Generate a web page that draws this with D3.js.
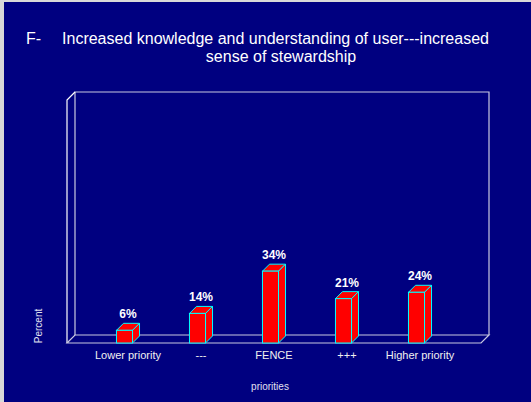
<!DOCTYPE html>
<html>
<head>
<meta charset="utf-8">
<script src="https://cdn.jsdelivr.net/npm/d3@7"></script>
<style>
  html, body { margin: 0; padding: 0; background: #d8d8d8; }
  svg { display: block; }
</style>
</head>
<body>
<div class="visHolder"></div>
<script>
const categories = ["Lower priority", "---", "FENCE", "+++", "Higher priority"];
const values = [6, 14, 34, 21, 24];
const valueLabels = ["6%", "14%", "34%", "21%", "24%"];

const fullWidth = 531;
const fullHeight = 402;
const depth = 8;          // 3d offset of the chart box
const barDepth = 7;       // 3d offset of each bar
const font = "'Liberation Sans', Arial, sans-serif";

const svg = d3.select(".visHolder")
   .append("svg")
   .attr("width", fullWidth)
   .attr("height", fullHeight);

svg.append("rect")
   .attr("x", 4).attr("y", 2)
   .attr("width", fullWidth - 4).attr("height", fullHeight - 2)
   .attr("fill", "#000080");

// scales
const xScale = d3.scaleBand()
   .domain(categories)
   .range([88, 453])
   .paddingInner(0.78)
   .paddingOuter(0.39);
const yScale = d3.scaleLinear()
   .domain([0, 115])
   .range([343, 100]);

const boxLeft = 67, boxRight = 481;
const boxBase = yScale(0), boxTop = yScale(115);

// chart box (back wall, side wall, floor)
const wall = svg.append("g").attr("fill", "none");
wall.append("path")
   .attr("d", `M${boxLeft + depth},${boxBase - depth} V${boxTop - depth} H${boxRight + depth} V${boxBase - depth}`)
   .attr("stroke", "#c8c8e0").attr("stroke-width", 1.2);
wall.append("path")
   .attr("d", `M${boxLeft},${boxBase} V${boxTop} L${boxLeft + depth},${boxTop - depth}`)
   .attr("stroke", "#ffffff").attr("stroke-width", 1.2);
wall.append("path")
   .attr("d", `M${boxLeft + depth},${boxBase - depth} H${boxRight + depth} L${boxRight},${boxBase} H${boxLeft} Z`)
   .attr("stroke", "#c8c8e0").attr("stroke-width", 1.2);

// bars
const bars = svg.selectAll(".bar")
   .data(values)
   .enter()
   .append("g")
   .attr("class", "bar")
   .attr("stroke", "#00ffff")
   .attr("stroke-width", 1)
   .attr("fill", "#ff0000");

bars.append("path")
   .attr("d", (d, i) => {
      const x = xScale(categories[i]), w = xScale.bandwidth(), y = yScale(d);
      return `M${x},${y} L${x + barDepth},${y - barDepth} H${x + w + barDepth} L${x + w},${y} Z`;
   });
bars.append("path")
   .attr("d", (d, i) => {
      const x = xScale(categories[i]) + xScale.bandwidth(), y = yScale(d);
      return `M${x},${y} L${x + barDepth},${y - barDepth} V${boxBase - barDepth} L${x},${boxBase} Z`;
   });
bars.append("rect")
   .attr("x", (d, i) => xScale(categories[i]))
   .attr("y", d => yScale(d))
   .attr("width", xScale.bandwidth())
   .attr("height", d => boxBase - yScale(d));

// value labels
svg.selectAll(".val")
   .data(values)
   .enter()
   .append("text")
   .attr("class", "val")
   .attr("x", (d, i) => xScale(categories[i]) + xScale.bandwidth() / 2 + barDepth / 2)
   .attr("y", d => yScale(d) - barDepth - 5)
   .attr("text-anchor", "middle")
   .attr("font-family", font)
   .attr("font-size", 12)
   .attr("font-weight", "bold")
   .attr("fill", "#ffffff")
   .text((d, i) => valueLabels[i]);

// x axis labels
const xAxis = d3.axisBottom(xScale).tickSize(0).tickPadding(0);
const gx = svg.append("g")
   .attr("id", "x-axis")
   .attr("transform", `translate(${barDepth / 2},${boxBase + 16})`)
   .call(xAxis);
gx.select(".domain").remove();
gx.selectAll("text")
   .attr("dy", 0)
   .attr("font-family", font)
   .attr("font-size", 11)
   .attr("fill", "#f0f0f0");

// titles
svg.append("text")
   .attr("x", 26).attr("y", 44)
   .attr("font-family", font).attr("font-size", 16)
   .attr("fill", "#ffffff")
   .text("F-");
svg.append("text")
   .attr("x", 275.5).attr("y", 44)
   .attr("text-anchor", "middle")
   .attr("font-family", font).attr("font-size", 16)
   .attr("fill", "#ffffff")
   .text("Increased knowledge and understanding of user---increased");
svg.append("text")
   .attr("x", 281).attr("y", 62)
   .attr("text-anchor", "middle")
   .attr("font-family", font).attr("font-size", 16)
   .attr("fill", "#ffffff")
   .text("sense of stewardship");

svg.append("text")
   .attr("transform", "translate(42,326) rotate(-90)")
   .attr("text-anchor", "middle")
   .attr("font-family", font).attr("font-size", 10)
   .attr("fill", "#e0e0f0")
   .text("Percent");
svg.append("text")
   .attr("x", 270).attr("y", 390)
   .attr("text-anchor", "middle")
   .attr("font-family", font).attr("font-size", 10)
   .attr("fill", "#e0e0f0")
   .text("priorities");
</script>
</body>
</html>
